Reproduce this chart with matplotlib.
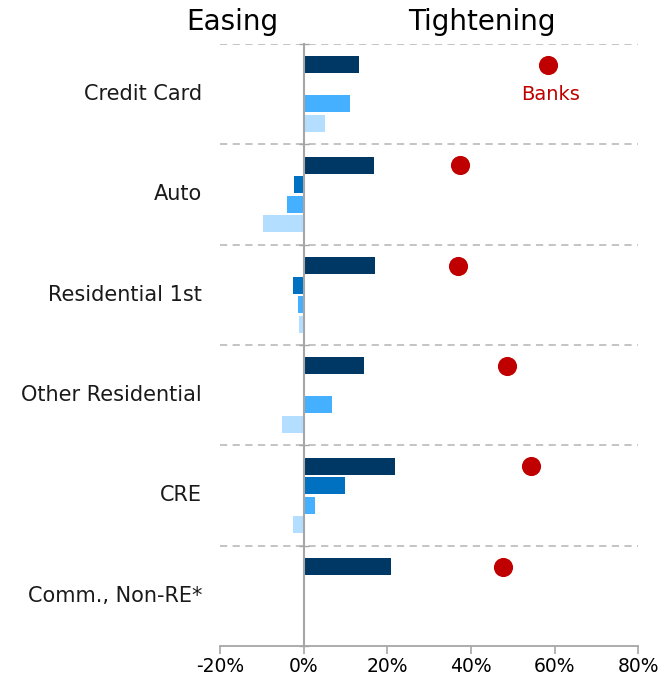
import numpy as np
import matplotlib
matplotlib.use("Agg")
import matplotlib.pyplot as plt

categories = ["Credit Card", "Auto", "Residential 1st", "Other Residential", "CRE", "Comm., Non-RE*"]
# four series per category, top to bottom (percent, net tightening)
s1 = [13.2, 16.8, 17.0, 14.4, 21.9, 20.9]
s2 = [0.0, -2.4, -2.5, 0.0, 9.9, 0.0]
s3 = [11.0, -4.0, -1.4, 6.8, 2.7, 0.0]
s4 = [5.2, -9.7, -1.2, -5.2, -2.6, 0.0]
banks = [58.5, 37.4, 36.8, 48.6, 54.3, 47.7]
xticks = [-20, 0, 20, 40, 60, 80]

colors = ["#003865", "#0070C0", "#45B0FF", "#B4DEFF"]
offsets = [-0.292, -0.097, 0.097, 0.292]
bar_h = 0.168

plt.rcParams['font.family'] = ['DejaVu Sans']
fig = plt.figure(figsize=(6.6, 6.8), dpi=100)
ax = fig.add_axes([0.3333, 0.05, 0.9671 - 0.3333, 0.9353 - 0.05])

y = np.arange(len(categories))
for vals, c, off in zip([s1, s2, s3, s4], colors, offsets):
    ax.barh(y + off, vals, height=bar_h, color=c, linewidth=0, zorder=3)

ax.scatter(banks, y + offsets[0], s=190, color="#C00000", zorder=4, linewidths=0)
ax.text(banks[0] + 0.6, 0.0, "Banks", color="#C00000", fontsize=14, ha="center", va="center")

# separators
for b in np.arange(-0.5, len(categories) - 0.5, 1.0):
    ax.axhline(b, color="#BFBFBF", linestyle=(0, (4, 3)), linewidth=1.3, zorder=1)

ax.set_xlim(-20, 80)
ax.set_ylim(len(categories) - 0.5, -0.5)
ax.set_xticks(xticks)
ax.set_xticklabels([f"{t}%" for t in xticks], fontsize=13.5)

# zero line acting as category axis
ax.spines["left"].set_position(("data", 0))
ax.spines["left"].set_color("#A6A6A6")
ax.spines["left"].set_linewidth(1.5)
ax.spines["left"].set_zorder(5)
ax.set_yticks(np.arange(-0.5, len(categories), 1.0))
ax.set_yticklabels([])
ax.tick_params(axis="y", direction="inout", length=7, color="#A6A6A6", width=1)
ax.spines["right"].set_visible(False)
ax.spines["top"].set_visible(False)
ax.spines["bottom"].set_color("#A6A6A6")
ax.spines["bottom"].set_linewidth(1.3)
ax.tick_params(axis="x", direction="out", length=6, color="#A6A6A6", width=1.2, pad=2)

for i, name in enumerate(categories):
    ax.text(-24.3, i, name, ha="right", va="center", fontsize=15, color="#1a1a1a")

fig.text(232 / 660, 1 - 22 / 680, "Easing", ha="center", va="center", fontsize=20)
fig.text(482 / 660, 1 - 22 / 680, "Tightening", ha="center", va="center", fontsize=20)

plt.savefig("out.png", dpi=100)
